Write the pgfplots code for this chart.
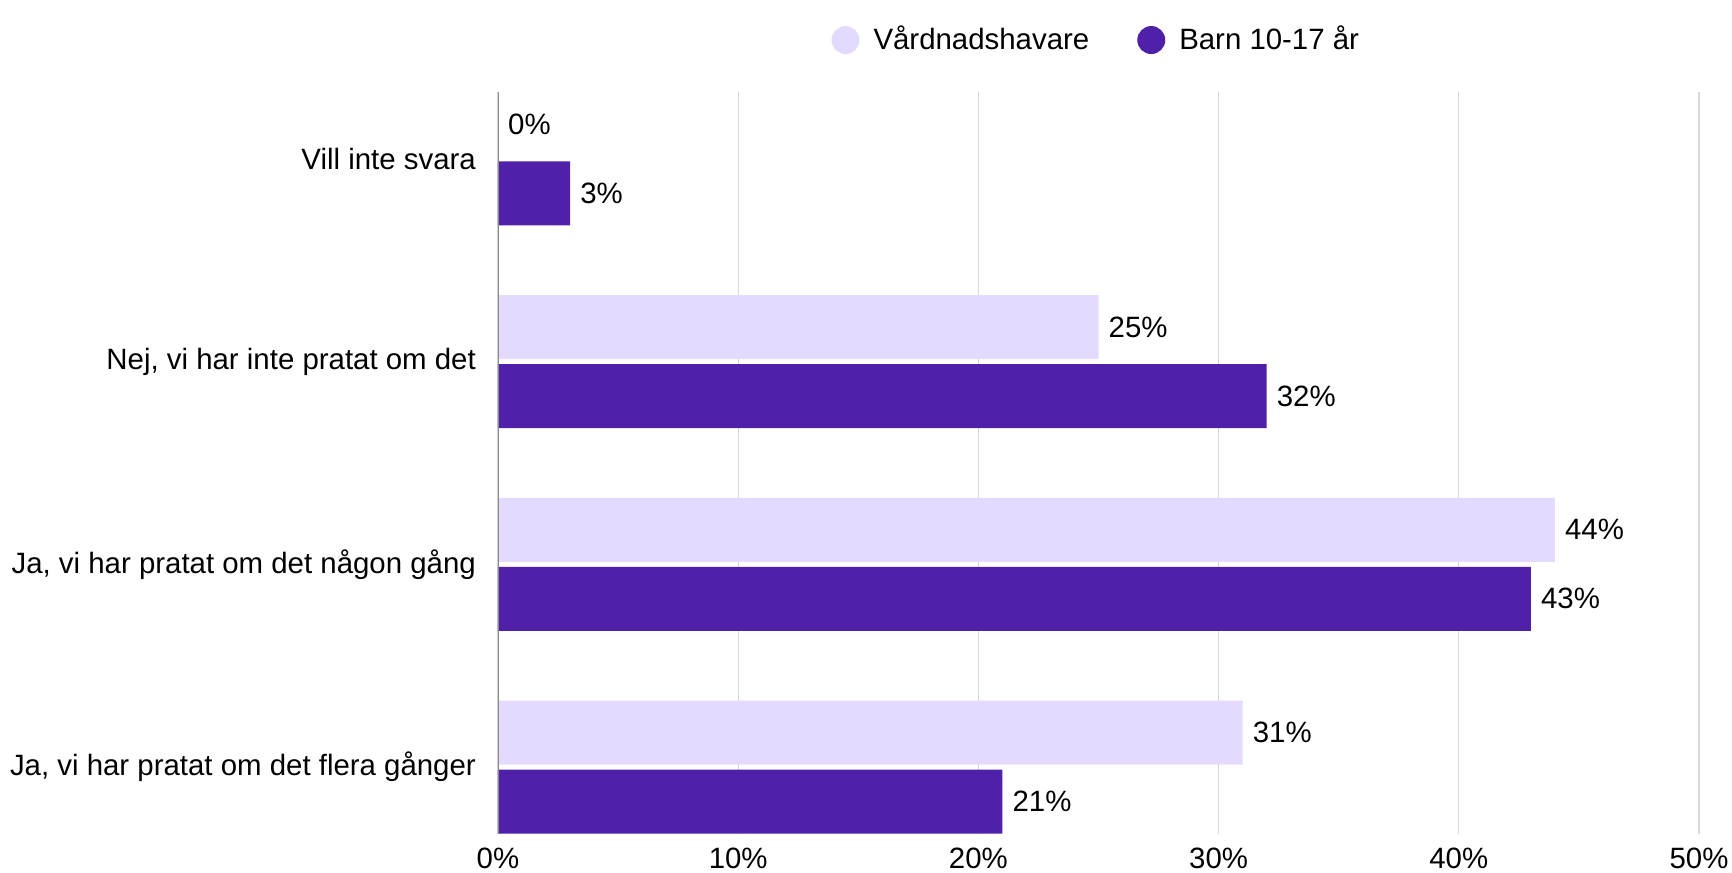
\documentclass[border=0pt]{standalone}
\usepackage{pgfplots}
\pgfplotsset{compat=1.18}
\usepackage{fontspec}
\setmainfont{Liberation Sans}
\definecolor{lightp}{HTML}{E4DAFE}
\definecolor{darkp}{HTML}{5021A8}
\definecolor{gridc}{HTML}{D9D9D9}
\definecolor{axisc}{HTML}{8C8C8C}

\begin{document}
\fontsize{14.7}{17}\selectfont
\begin{tikzpicture}
\useasboundingbox (-249pt,-19pt) rectangle (617pt,417pt);
\begin{axis}[
    at={(0,0)}, anchor=south west,
    scale only axis, width=600.5pt, height=371pt,
    /pgf/number format/assume math mode=true,
    xbar, bar width=32pt,
    xmin=0, xmax=50, ymin=-0.33, ymax=3.33,
    xtick={0,10,...,50},
    xticklabel={\pgfmathprintnumber{\tick}\%},
    ytick={0,1,2,3},
    yticklabels={{Ja, vi har pratat om det flera gånger},{Ja, vi har pratat om det någon gång},{Nej, vi har inte pratat om det},{Vill inte svara}},
    yticklabel style={xshift=-6pt},
    xticklabel style={yshift=-2pt},
    axis line style={draw=none},
    major tick length=0pt,
    xmajorgrids, grid style={gridc, line width=0.6pt},
    nodes near coords={\pgfmathprintnumber{\pgfplotspointmeta}\%},
    point meta=x,
    nodes near coords style={anchor=west, text=black},
    legend columns=2,
    legend style={at={(0.499,1.07)}, anchor=center, draw=none, fill=none,
        /tikz/every even column/.append style={column sep=22pt}},
    legend image code/.code={\fill[#1, draw=none] (7pt,0) circle (7pt); \path (19pt,0);},
]
\addplot[fill=lightp, draw=none, bar shift=17.25pt] coordinates {
    (31,0) (44,1) (25,2) (0,3)
};
\addlegendentry{Vårdnadshavare}
\addplot[fill=darkp, draw=none, bar shift=-17.25pt] coordinates {
    (21,0) (43,1) (32,2) (3,3)
};
\addlegendentry{Barn 10-17 år}
\draw[axisc, line width=0.6pt] (axis cs:0,-0.33) -- (axis cs:0,3.33);
\end{axis}
\end{tikzpicture}
\end{document}
